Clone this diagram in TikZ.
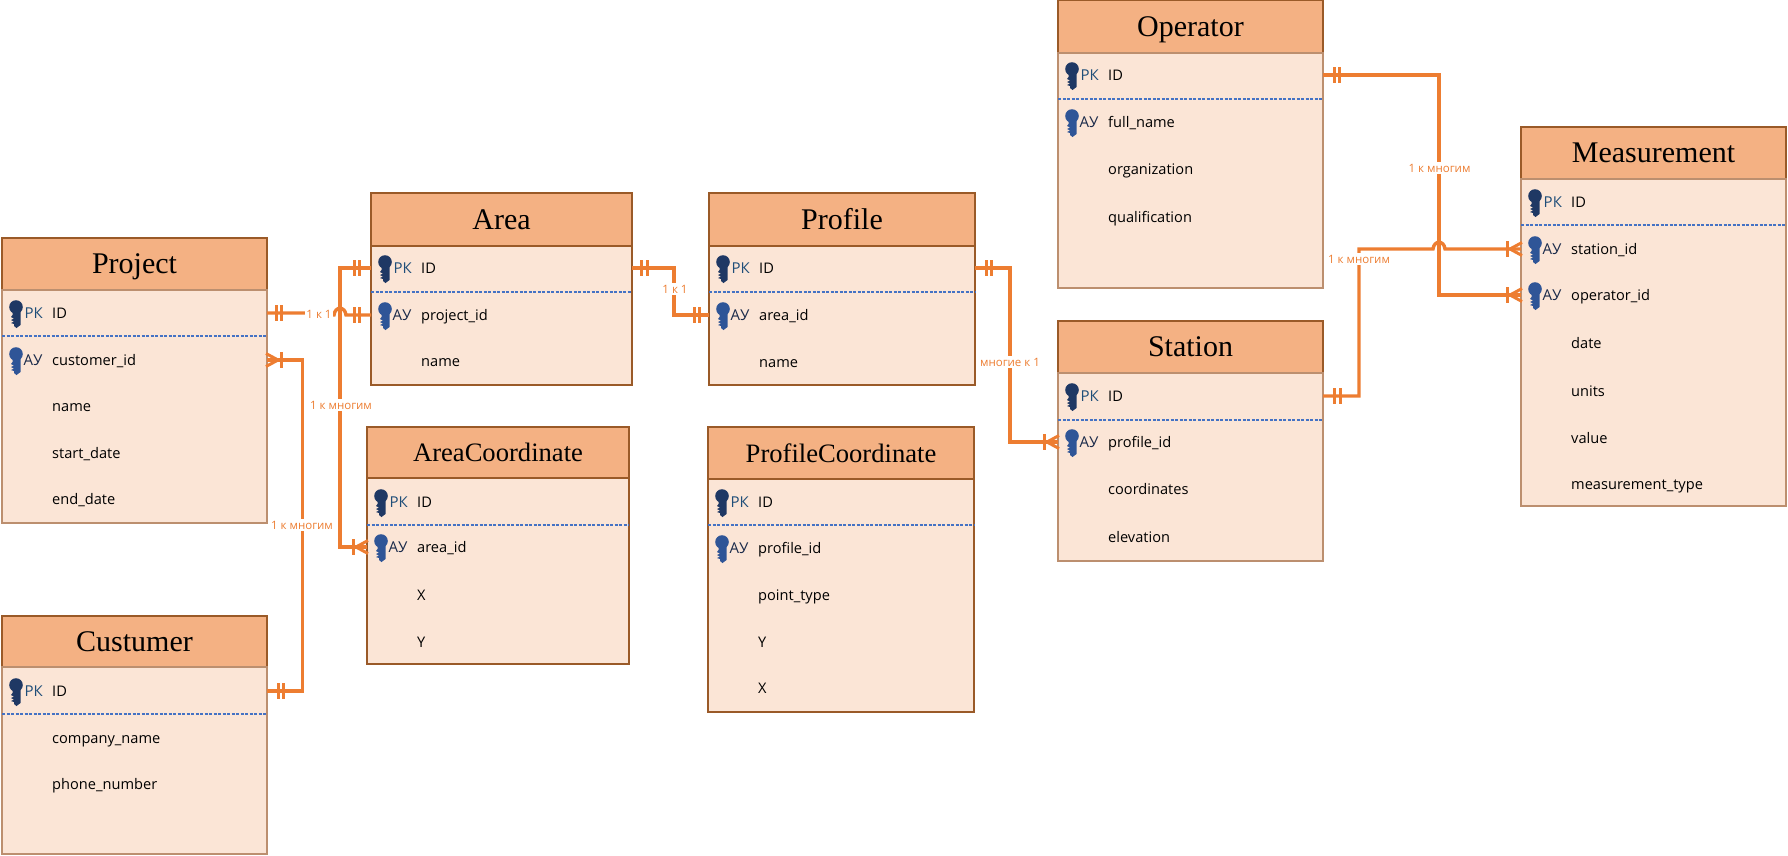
\documentclass[tikz,border=0pt]{standalone}
\usepackage{fontspec}
\setmainfont{Open Sans}
\newfontfamily\titlefont{Liberation Serif}
\definecolor{hdrfill}{HTML}{F4B183}
\definecolor{bodyfill}{HTML}{FBE5D6}
\definecolor{edgecol}{HTML}{9A5A28}
\definecolor{softedge}{HTML}{BC8F6F}
\definecolor{conncol}{HTML}{ED7D31}
\definecolor{dashcol}{HTML}{4472C4}
\definecolor{pkkeycol}{HTML}{1F3864}
\definecolor{fkkeycol}{HTML}{2F5597}
\definecolor{pktext}{HTML}{1F4E79}
\definecolor{fktext}{HTML}{1A2A4A}
\tikzset{
  x=1pt,y=-1pt,
  hdrbox/.style={draw=edgecol,line width=1.1pt,fill=hdrfill,anchor=north west,inner sep=0pt,outer sep=0pt,
    font=\titlefont\fontsize{30}{32}\selectfont,text=black},
  bodybox/.style={draw=edgecol,line width=1.1pt,fill=bodyfill,anchor=north west,inner sep=0pt,outer sep=0pt},
  softbody/.style={draw=softedge},
  rowslot/.style={inner sep=0pt,outer sep=0pt,minimum height=24pt},
  fieldtext/.style={anchor=mid west,inner sep=0pt,font=\fontsize{14.6}{17}\selectfont,text=black},
  pklabel/.style={anchor=mid west,inner sep=0pt,font=\fontsize{15}{17}\selectfont,text=pktext},
  fklabel/.style={anchor=mid west,inner sep=0pt,font=\fontsize{15}{17}\selectfont,text=fktext},
  sepline/.style={draw=dashcol,line width=1.3pt,dash pattern=on 3pt off 1.5pt},
  conn/.style={draw=conncol,line width=3.4pt,line join=miter},
  tick/.style={draw=conncol,line width=3pt},
  rellabel/.style={fill=white,inner sep=1.5pt,text=conncol,font=\fontsize{11.5}{13}\selectfont},
  pics/keyshape/.style={code={
    \fill[#1] (0,-6) circle[radius=6.8pt];
    \fill[#1] (4.5,-1) -- (4.5,12) -- (0.5,15) -- (-2,13) -- (-2,11) -- (-5,10) -- (-2,8.5) -- (-5,7) -- (-2,5.5) -- (-5,4) -- (-3.5,2) -- (-3.5,-1) -- cycle;
  }},
  pics/dbar/.style={code={
    \draw[tick] (-2.6,-8) -- (-2.6,8);
    \draw[tick] (2.6,-8) -- (2.6,8);
  }},
  pics/crowfoot/.style={code={
    % tip at the table edge (0,0), foot pointing away along -x
    \draw[tick] (-14,-8) -- (-14,8);
    \draw[tick] (1,-6.5) -- (-11,0) -- (1,6.5);
  }},
}
\newcommand{\ertable}[8][]{% style of body, id, title, x1, x2, top, hdr bottom, bottom
  \node[hdrbox,minimum width={(#5-#4)*1pt},minimum height={(#7-#6)*1pt}] (#2-head) at (#4,#6) {#3};
  \node[bodybox,#1,minimum width={(#5-#4)*1pt},minimum height={(#8-#7)*1pt}] (#2-body) at (#4,#7) {};
}
\newcommand{\rowslot}[4]{% id, x1, x2, y
  \node[rowslot,minimum width={(#3-#2)*1pt}] (#1) at ({(#2+#3)/2},#4) {};
}
\newcommand{\plainrow}[5]{% id,x1,x2,y,text
  \rowslot{#1}{#2}{#3}{#4}
  \node[fieldtext] (#1-text) at (#2+50,#4+2.8) {#5};
}
\newcommand{\pkrow}[6]{% id,x1,x2,y,text,separator y
  \plainrow{#1}{#2}{#3}{#4}{#5}
  \pic at (#2+14,#4) {keyshape=pkkeycol};
  \node[pklabel] (#1-key) at (#2+22.5,#4+2.8) {РК};
  \draw[sepline] (#2,#6) -- (#3,#6);
}
\newcommand{\fkrow}[5]{% id,x1,x2,y,text
  \plainrow{#1}{#2}{#3}{#4}{#5}
  \pic at (#2+14,#4) {keyshape=fkkeycol};
  \node[fklabel] (#1-key) at (#2+21.5,#4+2.8) {АУ};
}
\newcommand{\lowtitle}[1]{\raisebox{0pt}[\dimexpr\height+6pt\relax][\depth]{#1}}
\newcommand{\smalltitle}[1]{{\fontsize{26.6}{30}\selectfont #1}}
\begin{document}
\begin{tikzpicture}
\useasboundingbox (0,0) rectangle (1788,855);
% ---------- Project
\ertable[softbody]{project}{\lowtitle{Project}}{2}{267}{238}{290}{523}
\pkrow{project-id}{2}{267}{313}{ID}{336}
\fkrow{project-cust}{2}{267}{360}{customer\_id}
\plainrow{project-name}{2}{267}{406}{name}
\plainrow{project-start}{2}{267}{453}{start\_date}
\plainrow{project-end}{2}{267}{499}{end\_date}
% ---------- Custumer
\ertable[softbody]{cust}{Custumer}{2}{267}{616}{667}{854}
\pkrow{cust-id}{2}{267}{691}{ID}{714}
\plainrow{cust-company}{2}{267}{738}{company\_name}
\plainrow{cust-phone}{2}{267}{784}{phone\_number}
% ---------- Area
\ertable{area}{Area}{371}{632}{193}{246}{385}
\pkrow{area-id}{371}{632}{268}{ID}{292}
\fkrow{area-proj}{371}{632}{315}{project\_id}
\plainrow{area-name}{371}{632}{361}{name}
% ---------- AreaCoordinate
\ertable{areac}{\smalltitle{AreaCoordinate}}{367}{629}{427}{478}{664}
\pkrow{areac-id}{367}{629}{502}{ID}{525}
\fkrow{areac-area}{367}{629}{547}{area\_id}
\plainrow{areac-x}{367}{629}{595}{X}
\plainrow{areac-y}{367}{629}{642}{Y}
% ---------- Profile
\ertable{profile}{Profile}{709}{975}{193}{246}{385}
\pkrow{profile-id}{709}{975}{268}{ID}{292}
\fkrow{profile-area}{709}{975}{315}{area\_id}
\plainrow{profile-name}{709}{975}{362}{name}
% ---------- ProfileCoordinate
\ertable{profc}{\smalltitle{ProfileCoordinate}}{708}{974}{427}{479}{712}
\pkrow{profc-id}{708}{974}{502}{ID}{525}
\fkrow{profc-prof}{708}{974}{548}{profile\_id}
\plainrow{profc-type}{708}{974}{595}{point\_type}
\plainrow{profc-y}{708}{974}{642}{Y}
\plainrow{profc-x}{708}{974}{688}{X}
% ---------- Operator
\ertable[softbody]{oper}{\lowtitle{Operator}}{1058}{1323}{0}{53}{288}
\pkrow{oper-id}{1058}{1323}{75}{ID}{99}
\fkrow{oper-name}{1058}{1323}{122}{full\_name}
\plainrow{oper-org}{1058}{1323}{169}{organization}
\plainrow{oper-qual}{1058}{1323}{217}{qualification}
% ---------- Station
\ertable[softbody]{station}{Station}{1058}{1323}{321}{373}{561}
\pkrow{station-id}{1058}{1323}{396}{ID}{420}
\fkrow{station-prof}{1058}{1323}{442}{profile\_id}
\plainrow{station-coord}{1058}{1323}{489}{coordinates}
\plainrow{station-elev}{1058}{1323}{537}{elevation}
% ---------- Measurement
\ertable[softbody]{meas}{Measurement}{1521}{1786}{127}{179}{506}
\pkrow{meas-id}{1521}{1786}{202}{ID}{225}
\fkrow{meas-station}{1521}{1786}{249}{station\_id}
\fkrow{meas-oper}{1521}{1786}{295}{operator\_id}
\plainrow{meas-date}{1521}{1786}{343}{date}
\plainrow{meas-units}{1521}{1786}{391}{units}
\plainrow{meas-value}{1521}{1786}{438}{value}
\plainrow{meas-type}{1521}{1786}{484}{measurement\_type}
% ---------- Connectors
% Area.ID - AreaCoordinate.area_id
\draw[conn] (area-id.west) -- (340,268) -- (340,547) -- (areac-area.west);
\pic at (357,268) {dbar};
\pic at (367,547) {crowfoot};
\node[rellabel] (lbl-area) at (341,405) {1 к многим};
% Project.ID - Area.project_id
\draw[conn] (project-id.east) -- (320,313) -- (320,315) -- (334,315) .. controls (335,306) and (345,306) .. (346,315) -- (area-proj.west);
\pic at (279,313) {dbar};
\pic at (357,315) {dbar};
\node[rellabel] (lbl-proj) at (319,314) {1 к 1};
% Custumer.ID - Project.customer_id
\draw[conn] (cust-id.east) -- (302.5,691) -- (302.5,360) -- (project-cust.east);
\pic at (281,691) {dbar};
\pic[xscale=-1] at (267,360) {crowfoot};
\node[rellabel] (lbl-cust) at (302,525) {1 к многим};
% Area.ID - Profile.area_id
\draw[conn] (area-id.east) -- (674,268) -- (674,315) -- (profile-area.west);
\pic at (644.5,268) {dbar};
\pic at (697,315) {dbar};
\node[rellabel] (lbl-prof) at (675,289) {1 к 1};
% Profile.ID - Station.profile_id
\draw[conn] (profile-id.east) -- (1010,268) -- (1010,442) -- (station-prof.west);
\pic at (989,268) {dbar};
\pic at (1058,442) {crowfoot};
\node[rellabel] (lbl-stat) at (1010,362) {многие к 1};
% Operator.ID - Measurement.operator_id
\draw[conn] (oper-id.east) -- (1439,75) -- (1439,295) -- (meas-oper.west);
\pic at (1337,75) {dbar};
\pic at (1521,295) {crowfoot};
\node[rellabel] (lbl-oper) at (1439.5,168) {1 к многим};
% Station.ID - Measurement.station_id
\draw[conn] (station-id.east) -- (1359,396) -- (1359,249) -- (1433,249) .. controls (1434,240) and (1444,240) .. (1445,249) -- (meas-station.west);
\pic at (1337.5,396) {dbar};
\pic at (1521,249) {crowfoot};
\node[rellabel] (lbl-meas) at (1359,259) {1 к многим};
\end{tikzpicture}
\end{document}
